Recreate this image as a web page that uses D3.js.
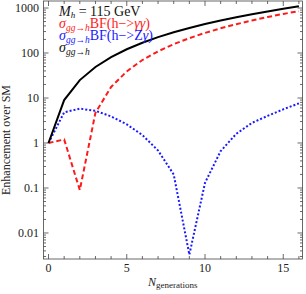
<!DOCTYPE html>
<html>
<head>
<meta charset="utf-8">
<script src="https://cdn.jsdelivr.net/npm/d3@7"></script>
<style>
  body { margin: 0; background: #fff; }
  text { font-family: "Liberation Serif", "DejaVu Serif", serif; }
</style>
</head>
<body>
<svg id="chart" width="306" height="294"></svg>
<script>
// values
var generations = [0, 1, 2, 3, 4, 5, 6, 7, 8, 9, 10, 11, 12, 13, 14, 15, 16];
var ggh = [1, 9, 25, 49, 81, 121, 169, 225, 289, 361, 441, 529, 625, 729, 841, 961, 1089];
var ggaa = [1, 1.2, 0.09, 4.7, 17.6, 39, 70, 109, 157, 214, 280, 354, 437, 529, 630, 740, 850];
var ggza = [1, 4.8, 5.8, 5.2, 3.9, 2.6, 1.5, 0.68, 0.2, 0.0033, 0.13, 0.66, 1.6, 2.8, 4.0, 5.6, 7.6];
var xTicks = [0, 5, 10, 15];
var yTicks = [0.01, 0.1, 1, 10, 100, 1000];
var yTickLabels = ["0.01", "0.1", "1", "10", "100", "1000"];

var svg = d3.select("#chart");
var pLeft = 43.5, pRight = 302.5, pTop = 1, pBottom = 259;

var x = d3.scaleLinear().domain([-0.32, 16.23]).range([pLeft, pRight]);
var y = d3.scaleLog().domain([0.00264, 1432]).range([pBottom, pTop]);

svg.append("defs").append("clipPath").attr("id", "clip")
  .append("rect").attr("x", pLeft).attr("y", pTop)
  .attr("width", pRight - pLeft).attr("height", pBottom - pTop);

var frameColor = "#444";

// minor / major ticks on all four sides
var minorX = d3.range(0, 17);
var minorY = [];
for (var e = -3; e <= 3; e++) {
  for (var m = 2; m <= 9; m++) {
    var v = m * Math.pow(10, e);
    if (v > y.domain()[0] && v < y.domain()[1]) minorY.push(v);
  }
}

var ticks = svg.append("g").attr("stroke", frameColor).attr("stroke-width", 0.8);
minorX.forEach(function(t) {
  var len = xTicks.indexOf(t) >= 0 ? 5 : 3;
  ticks.append("line").attr("x1", x(t)).attr("x2", x(t)).attr("y1", pBottom).attr("y2", pBottom - len);
  ticks.append("line").attr("x1", x(t)).attr("x2", x(t)).attr("y1", pTop).attr("y2", pTop + len);
});
yTicks.forEach(function(t) {
  ticks.append("line").attr("x1", pLeft).attr("x2", pLeft + 5).attr("y1", y(t)).attr("y2", y(t));
  ticks.append("line").attr("x1", pRight).attr("x2", pRight - 5).attr("y1", y(t)).attr("y2", y(t));
});
minorY.forEach(function(t) {
  ticks.append("line").attr("x1", pLeft).attr("x2", pLeft + 2.5).attr("y1", y(t)).attr("y2", y(t));
  ticks.append("line").attr("x1", pRight).attr("x2", pRight - 2.5).attr("y1", y(t)).attr("y2", y(t));
});

svg.append("rect").attr("x", pLeft).attr("y", pTop)
  .attr("width", pRight - pLeft).attr("height", pBottom - pTop)
  .attr("fill", "none").attr("stroke", frameColor).attr("stroke-width", 0.8);

// tick labels
svg.append("g").selectAll("text").data(xTicks).join("text")
  .attr("x", function(d) { return x(d); }).attr("y", 272)
  .attr("text-anchor", "middle").attr("font-size", 12).attr("fill", "#222")
  .text(function(d) { return d; });

svg.append("g").selectAll("text").data(yTicks).join("text")
  .attr("x", 39).attr("y", function(d) { return y(d) + 4; })
  .attr("text-anchor", "end").attr("font-size", 12).attr("fill", "#222")
  .text(function(d, i) { return yTickLabels[i]; });

// axis titles
svg.append("text")
  .attr("transform", "translate(10,140) rotate(-90)")
  .attr("text-anchor", "middle").attr("font-size", 12).attr("fill", "#222")
  .text("Enhancement over SM");

var xl = svg.append("text").attr("x", 148).attr("y", 286).attr("font-size", 12).attr("fill", "#222");
xl.append("tspan").attr("font-style", "italic").text("N");
xl.append("tspan").attr("font-size", 9).attr("dy", 2).text("generations");

// curves
var line = d3.line()
  .x(function(d) { return x(d[0]); })
  .y(function(d) { return y(d[1]); });

var plot = svg.append("g").attr("clip-path", "url(#clip)");

plot.append("path").datum(d3.zip(generations, ggza))
  .attr("d", line).attr("fill", "none").attr("stroke", "#1a1aff")
  .attr("stroke-width", 2).attr("stroke-dasharray", "2,2");

plot.append("path").datum(d3.zip(generations, ggaa))
  .attr("d", line).attr("fill", "none").attr("stroke", "#ff1a1a")
  .attr("stroke-width", 2).attr("stroke-dasharray", "5,3");

plot.append("path").datum(d3.zip(generations, ggh))
  .attr("d", line).attr("fill", "none").attr("stroke", "#000")
  .attr("stroke-width", 2);

// legend
var lg = svg.append("g").attr("font-size", 14);

var t1 = lg.append("text").attr("x", 59).attr("y", 16).attr("fill", "#111");
t1.append("tspan").attr("font-style", "italic").text("M");
t1.append("tspan").attr("font-style", "italic").attr("font-size", 9).attr("dy", 2).text("h");
t1.append("tspan").attr("dy", -2).text(" = 115 GeV");

function sigma(sel) {
  sel.append("tspan").attr("font-style", "italic").text("σ");
  sel.append("tspan").attr("font-style", "italic").attr("font-size", 9.5).attr("dy", 3).text("gg→h");
}

var t2 = lg.append("text").attr("x", 59).attr("y", 28).attr("fill", "#ff1a1a");
sigma(t2);
t2.append("tspan").attr("dy", -3).text("BF(h−>");
t2.append("tspan").attr("font-style", "italic").text("γγ");
t2.append("tspan").text(")");

var t3 = lg.append("text").attr("x", 59).attr("y", 40).attr("fill", "#1a1aff");
sigma(t3);
t3.append("tspan").attr("dy", -3).text("BF(h−>Z");
t3.append("tspan").attr("font-style", "italic").text("γ");
t3.append("tspan").text(")");

var t4 = lg.append("text").attr("x", 59).attr("y", 52).attr("fill", "#111");
sigma(t4);
</script>
</body>
</html>
